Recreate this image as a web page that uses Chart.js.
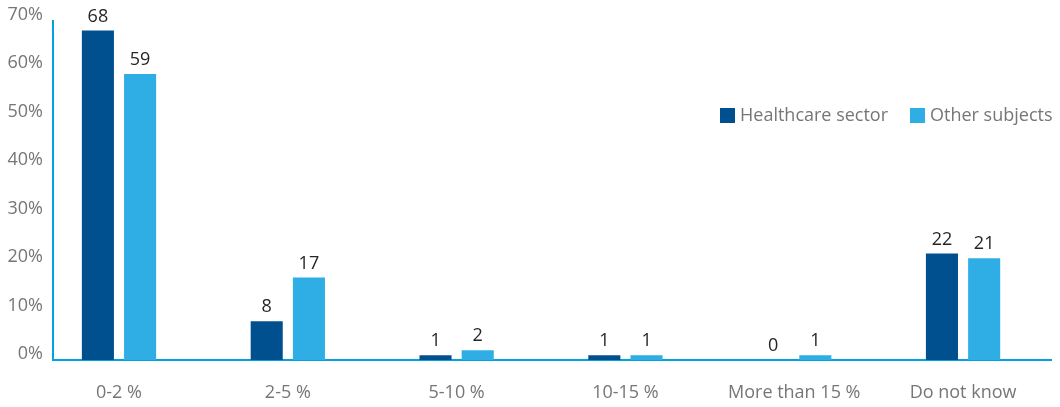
<!DOCTYPE html>
<html>
<head>
<meta charset="utf-8">
<script src="https://cdn.jsdelivr.net/npm/chart.js@4.4.1/dist/chart.umd.min.js"></script>
<style>
  html, body { margin: 0; padding: 0; background: #fff; }
  #wrap { width: 1060px; height: 407px; }
</style>
</head>
<body>
<div id="wrap"><canvas id="chart" width="1060" height="407"></canvas></div>
<script>
// Survey answers, percent of respondents
const categories = ['0-2 %', '2-5 %', '5-10 %', '10-15 %', 'More than 15 %', 'Do not know'];
const healthcare = [68, 8, 1, 1, 0, 22];
const otherSubjects = [59, 17, 2, 1, 1, 21];
const yTicks = [0, 10, 20, 30, 40, 50, 60, 70];

const darkBlue = '#00508f';
const lightBlue = '#2eaee5';
const axisBlue = '#00a3e0';
const tickGray = '#767676';
const FONT = "'Open Sans', sans-serif";

const toPoints = values => values.map((v, i) => ({ x: i, y: v }));

// number above every bar
const barValueLabels = {
    id: 'barValueLabels',
    afterDatasetsDraw(chart) {
        const ctx = chart.ctx;
        ctx.save();
        ctx.font = `18px ${FONT}`;
        ctx.fillStyle = '#262626';
        ctx.textAlign = 'center';
        ctx.textBaseline = 'middle';
        chart.data.datasets.forEach((ds, di) => {
            chart.getDatasetMeta(di).data.forEach((bar, i) => {
                ctx.fillText(String(ds.data[i].y), bar.x, bar.y - 14);
            });
        });
        ctx.restore();
    }
};

// legend sits inside the plot, upper right
const insideLegend = {
    id: 'insideLegend',
    afterDraw(chart) {
        const ctx = chart.ctx;
        const starts = [720, 910];
        const top = 108, box = 15;
        ctx.save();
        ctx.font = `18px ${FONT}`;
        ctx.textBaseline = 'middle';
        ctx.textAlign = 'left';
        chart.data.datasets.forEach((ds, i) => {
            ctx.fillStyle = ds.backgroundColor;
            ctx.fillRect(starts[i], top, box, box);
            ctx.fillStyle = tickGray;
            ctx.fillText(ds.label, starts[i] + box + 5, top + box / 2);
        });
        ctx.restore();
    }
};

new Chart(document.getElementById('chart'), {
    type: 'bar',
    data: {
        datasets: [
            { label: 'Healthcare sector', data: toPoints(healthcare), backgroundColor: darkBlue },
            { label: 'Other subjects', data: toPoints(otherSubjects), backgroundColor: lightBlue }
        ]
    },
    options: {
        responsive: false,
        animation: false,
        devicePixelRatio: 1,
        categoryPercentage: 0.5,
        barPercentage: 0.76,
        layout: { padding: { top: 20, right: 9, bottom: 0, left: 0 } },
        plugins: {
            legend: { display: false },
            tooltip: { enabled: false }
        },
        scales: {
            x: {
                type: 'linear',
                offset: false,
                min: -0.391,
                max: 5.521,
                grid: { display: false, drawTicks: false, offset: false },
                border: { color: axisBlue, width: 2 },
                afterBuildTicks: s => { s.ticks = categories.map((_, i) => ({ value: i })); },
                afterFit: s => { s.height = 47; },
                ticks: {
                    callback: v => categories[v],
                    autoSkip: false,
                    maxRotation: 0,
                    padding: 22,
                    color: tickGray,
                    font: { family: FONT, size: 18 }
                }
            },
            y: {
                min: 0,
                max: 70,
                grid: { display: false, drawTicks: false },
                border: { color: axisBlue, width: 2 },
                afterBuildTicks: s => { s.ticks = yTicks.map(v => ({ value: v })); },
                afterFit: s => { s.width = 53; },
                ticks: {
                    callback: v => v + '%',
                    labelOffset: -6,
                    padding: 10,
                    color: tickGray,
                    font: { family: FONT, size: 18 }
                }
            }
        }
    },
    plugins: [barValueLabels, insideLegend]
});
</script>
</body>
</html>
